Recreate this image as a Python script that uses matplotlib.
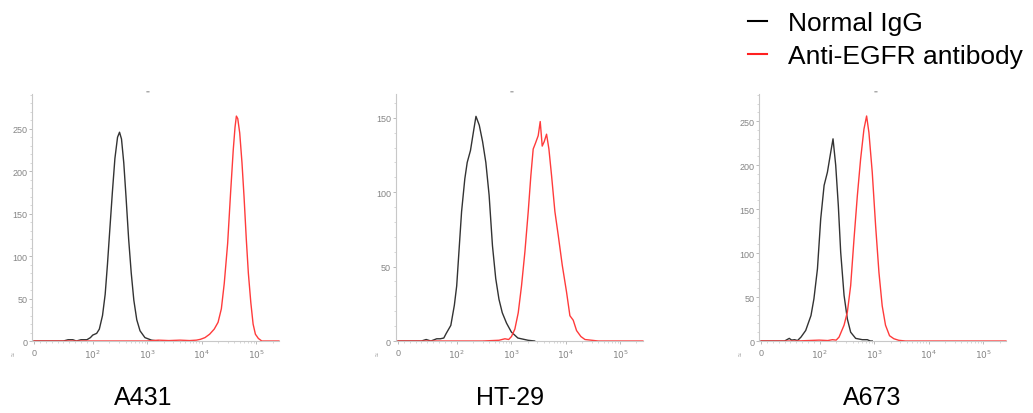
import matplotlib
matplotlib.use('Agg')
import matplotlib.pyplot as plt
from matplotlib.ticker import FixedLocator, NullFormatter

plt.rcParams['font.family'] = ['Liberation Sans', 'DejaVu Sans']

# cell lines
cells = ['A431', 'HT-29', 'A673']

# A431
a431_igg_x = [0, 50, 58, 66, 72, 80, 90, 96, 100, 118, 132, 151, 169, 186, 205, 229, 255, 285, 310, 337, 371, 408, 456, 509, 568, 643, 738, 908, 1200, 1590]
a431_igg_y = [0, 0, 1.5, 1.5, 0, 1.5, 1.5, 4, 7, 9, 14, 30, 55, 90, 130, 175, 215, 240, 246, 238, 210, 170, 120, 80, 48, 25, 12, 4, 1, 0]
a431_egfr_x = [0, 1000, 1600, 2500, 4000, 6000, 8000, 9500, 11500, 14000, 17000, 20000, 23000, 26000, 30000, 34000, 38000, 41000, 43400, 46000, 50000, 55000, 60000, 66000, 72000, 80000, 88000, 97000, 110000, 127000, 262144]
a431_egfr_y = [0, 0, 1, 0.5, 1, 0.5, 1, 2, 4, 8, 14, 22, 38, 68, 115, 175, 225, 252, 265, 262, 245, 210, 170, 120, 80, 45, 20, 8, 3, 0, 0]

# HT-29
ht29_igg_x = [0, 40, 48, 56, 66, 72, 78, 82, 90, 96, 100, 110, 123, 141, 156, 179, 206, 226, 260, 299, 343, 394, 454, 521, 598, 687, 823, 1010, 1330, 2040, 2700]
ht29_igg_y = [0, 0, 1, 0, 1.5, 1.5, 2, 5, 10.5, 24, 37, 60, 87, 109, 120, 128, 142, 151, 145, 134, 120, 98, 64, 42, 28, 19, 12, 6, 2, 0.5, 0]
ht29_egfr_x = [0, 300, 600, 769, 900, 1014, 1170, 1350, 1550, 1790, 2060, 2300, 2540, 2800, 3140, 3420, 3720, 4050, 4470, 4940, 5530, 6360, 7330, 8680, 10400, 12000, 13800, 15900, 19100, 22700, 30100, 39800, 262144]
ht29_egfr_y = [0, 0, 0.5, 1.5, 1, 3, 8, 19, 37, 60, 87, 111, 129, 133, 138, 147.5, 131, 134, 139, 129, 111, 87, 71, 51, 33, 17, 14, 7, 3, 1, 0.5, 0, 0]

# A673
a673_igg_x = [0, 40, 48, 52, 57, 62, 68, 76, 85, 90, 96, 104, 120, 138, 159, 175, 196, 219, 242, 279, 321, 369, 456, 603, 745, 850, 920]
a673_igg_y = [0, 0, 3, 1, 1.5, 0.5, 4.5, 12, 29, 48, 82, 139, 177, 192, 215, 230, 200, 154, 101, 52, 25, 10, 3, 1.5, 1.5, 0, 0]
a673_egfr_x = [0, 60, 99, 140, 171, 200, 226, 279, 321, 369, 425, 489, 562, 647, 724, 799, 919, 1060, 1220, 1400, 1610, 1910, 2290, 2820, 3740, 262144]
a673_egfr_y = [0, 0, 1, 0.5, 1.5, 1, 4.5, 18, 33, 63, 116, 165, 207, 241, 256, 237, 192, 131, 78, 40, 18, 6, 2.6, 0.8, 0, 0]

igg = [(a431_igg_x, a431_igg_y), (ht29_igg_x, ht29_igg_y), (a673_igg_x, a673_igg_y)]
egfr = [(a431_egfr_x, a431_egfr_y), (ht29_egfr_x, ht29_egfr_y), (a673_egfr_x, a673_egfr_y)]
ymax = [291, 166, 281]
yticks = [[0, 50, 100, 150, 200, 250], [0, 50, 100, 150], [0, 50, 100, 150, 200, 250]]

xticks = [0, 100, 1000, 10000, 100000]
xlabels = ['0', r'$10^2$', r'$10^3$', r'$10^4$', r'$10^5$']
xminor = [10, 20, 30, 40, 50, 60, 70, 80, 90]
for d in [100, 1000, 10000]:
    xminor += [k * d for k in range(2, 10)]
xminor += [200000]

fig = plt.figure(figsize=(10.33, 4.14), dpi=100)
lefts = [0.031, 0.3833, 0.7348]
label_x = [143, 510, 872]
gray = '#858585'

for i in range(3):
    ax = fig.add_axes([lefts[i], 0.1739, 0.239, 0.5966])
    ax.set_xscale('symlog', linthresh=100, linscale=0.97)
    ax.plot(igg[i][0], igg[i][1], color='#333333', linewidth=1.0, clip_on=False)
    ax.plot(egfr[i][0], egfr[i][1], color='#ff3b3b', linewidth=1.0, clip_on=False)
    ax.set_xlim(-3.5, 262144)
    ax.set_ylim(0, ymax[i])
    ax.spines['top'].set_visible(False)
    ax.spines['right'].set_visible(False)
    ax.spines['left'].set_color('#c8c8c8')
    ax.spines['bottom'].set_color('#c8c8c8')
    ax.set_xticks(xticks)
    ax.set_xticklabels(xlabels)
    ax.xaxis.set_minor_locator(FixedLocator(xminor))
    ax.xaxis.set_minor_formatter(NullFormatter())
    ax.set_yticks(yticks[i])
    ax.yaxis.set_minor_locator(FixedLocator(list(range(0, ymax[i], 10))))
    ax.tick_params(which='major', length=2.5, width=0.6, color='#b0b0b0', labelsize=6.5, labelcolor=gray, pad=1)
    ax.tick_params(which='minor', length=1.5, width=0.5, color='#c8c8c8')
    ax.tick_params(axis='x', which='major', pad=2.5)
    ax.text(-0.07, -0.05, '≈', transform=ax.transAxes, rotation=90, fontsize=5, color='#999999', ha='center', va='center')
    ax.text(0.47, 1.005, '▬', transform=ax.transAxes, fontsize=3, color='#aaaaaa', ha='center', va='bottom', family='DejaVu Sans')
    fig.text(label_x[i] / 1033, 1 - 398 / 414, cells[i], fontsize=18, ha='center', va='center')

h1, = plt.plot([], [], color='black', linewidth=1.5)
h2, = plt.plot([], [], color='#ff2020', linewidth=1.5)
fig.legend([h1, h2], ['Normal IgG', 'Anti-EGFR antibody'], loc='upper right', bbox_to_anchor=(1.013, 1.028),
           frameon=False, fontsize=19, handlelength=0.7, handletextpad=0.8, labelspacing=0.35)

plt.savefig('out.png', dpi=100)
